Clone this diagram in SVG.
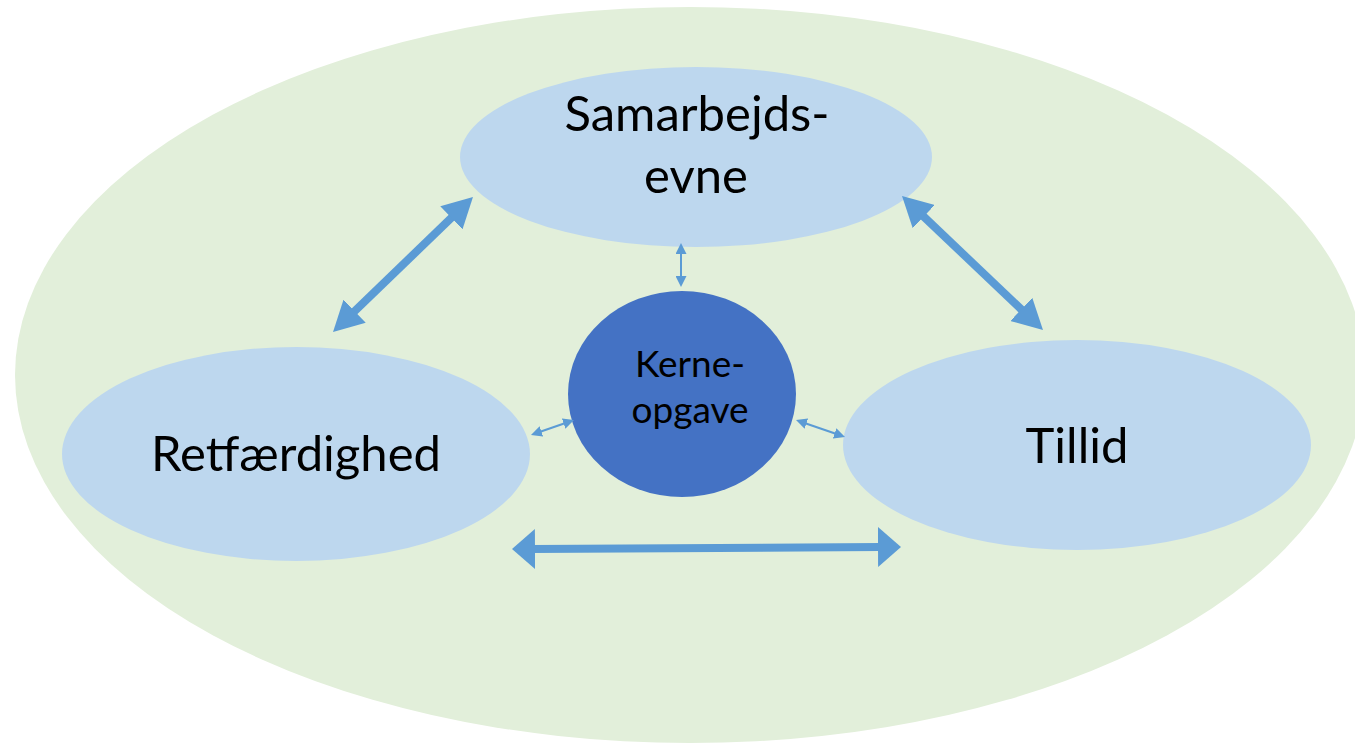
<svg xmlns="http://www.w3.org/2000/svg" width="1355" height="743" viewBox="0 0 1355 743">
<style>
  .bg{fill:#E2EFDA}
  .node{fill:#BDD7EE}
  .core{fill:#4472C4}
  .lbl{font-family:Lato,"Open Sans","Liberation Sans",sans-serif;fill:#000;text-anchor:middle}
  .big{font-size:49px}
  .small{font-size:37px}
  .thick{stroke:#5B9BD5;stroke-width:8;fill:none}
  .thin{stroke:#5B9BD5;stroke-width:2;fill:none}
</style>
<defs>
  <marker id="hd" viewBox="0 0 30 32" refX="6" refY="16" markerWidth="30" markerHeight="32" markerUnits="userSpaceOnUse" orient="auto-start-reverse">
    <path d="M0,0 L30,16 L0,32 z" fill="#5B9BD5"/>
  </marker>
  <marker id="hdh" viewBox="0 0 23 40" refX="3" refY="20" markerWidth="23" markerHeight="40" markerUnits="userSpaceOnUse" orient="auto-start-reverse">
    <path d="M0,0 L23,20 L0,40 z" fill="#5B9BD5"/>
  </marker>
  <marker id="hs" viewBox="0 0 11 11" refX="2" refY="5.5" markerWidth="11" markerHeight="11" markerUnits="userSpaceOnUse" orient="auto-start-reverse">
    <path d="M0,0 L11,5.5 L0,11 z" fill="#5B9BD5"/>
  </marker>
</defs>
<g id="background">
  <ellipse class="bg" cx="690" cy="375" rx="675" ry="368"/>
</g>
<g id="node-samarbejdsevne">
  <ellipse class="node" cx="696" cy="157" rx="236" ry="90"/>
  <text class="lbl big" x="697" y="131">Samarbejds-</text>
  <text class="lbl big" x="696" y="193">evne</text>
</g>
<g id="node-retfaerdighed">
  <ellipse class="node" cx="296" cy="454" rx="234" ry="107"/>
  <text class="lbl big" x="296" y="471">Retfærdighed</text>
</g>
<g id="node-tillid">
  <ellipse class="node" cx="1077" cy="445" rx="234" ry="105"/>
  <text class="lbl big" x="1077" y="463">Tillid</text>
</g>
<g id="node-kerneopgave">
  <ellipse class="core" cx="682" cy="394" rx="114" ry="103"/>
  <text class="lbl small" x="690" y="377">Kerne-</text>
  <text class="lbl small" x="690" y="423">opgave</text>
</g>
<g id="connectors">
  <line class="thick" x1="350.3" y1="315.3" x2="455.7" y2="213.7" marker-start="url(#hd)" marker-end="url(#hd)"/>
  <line class="thick" x1="919.4" y1="212.5" x2="1025.6" y2="313.5" marker-start="url(#hd)" marker-end="url(#hd)"/>
  <line class="thick" x1="532" y1="549" x2="881" y2="547" marker-start="url(#hdh)" marker-end="url(#hdh)"/>
  <line class="thin" x1="681" y1="252" x2="681" y2="278" marker-start="url(#hs)" marker-end="url(#hs)"/>
  <line class="thin" x1="539.5" y1="432" x2="565.5" y2="423" marker-start="url(#hs)" marker-end="url(#hs)"/>
  <line class="thin" x1="804.5" y1="423" x2="836.5" y2="434" marker-start="url(#hs)" marker-end="url(#hs)"/>
</g>
</svg>
